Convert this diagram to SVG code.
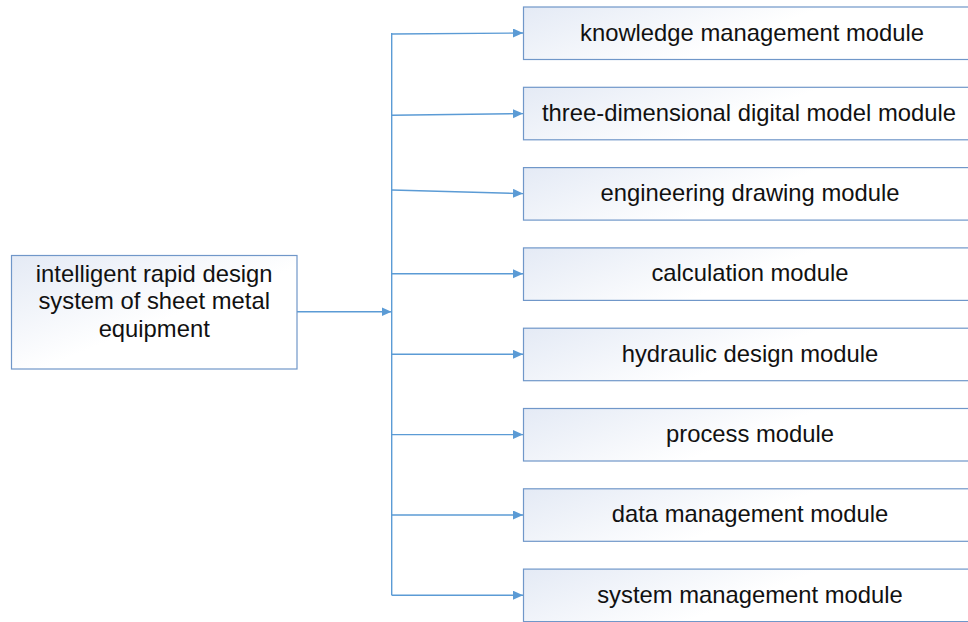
<svg xmlns="http://www.w3.org/2000/svg" width="968" height="622" viewBox="0 0 968 622">
<style>
.box{stroke:#7097C9;stroke-width:1.2;}
.lbl{font-family:"Liberation Sans",Arial,sans-serif;font-size:23.8px;fill:#111;text-anchor:middle;}
.con{stroke:#5B9BD5;stroke-width:1.4;fill:none;}
</style>
<defs>
<linearGradient id="gR" x1="0" y1="0" x2="1" y2="0.3">
<stop offset="0" stop-color="#E4EAF5"/>
<stop offset="0.6" stop-color="#FFFFFF"/>
</linearGradient>
<linearGradient id="gL" x1="0" y1="0" x2="1" y2="1">
<stop offset="0" stop-color="#E4EAF5"/>
<stop offset="0.55" stop-color="#FFFFFF"/>
</linearGradient>
<marker id="ah" markerUnits="userSpaceOnUse" markerWidth="11" markerHeight="10" refX="10" refY="4.5" orient="auto">
<path d="M0,0 L10,4.5 L0,9 z" fill="#5B9BD5"/>
</marker>
</defs>
<rect width="968" height="622" fill="#FFFFFF"/>
<g id="connectors">
<line class="con" x1="297" y1="311.7" x2="391.5" y2="311.7" marker-end="url(#ah)"/>
<line class="con" x1="391.7" y1="33" x2="391.7" y2="595.2"/>
<line class="con" x1="391.7" y1="34" x2="523" y2="33" marker-end="url(#ah)"/>
<line class="con" x1="391.7" y1="115.2" x2="523" y2="113.6" marker-end="url(#ah)"/>
<line class="con" x1="391.7" y1="190" x2="523" y2="193.6" marker-end="url(#ah)"/>
<line class="con" x1="391.7" y1="273.8" x2="523" y2="273.8" marker-end="url(#ah)"/>
<line class="con" x1="391.7" y1="354.3" x2="523" y2="354.3" marker-end="url(#ah)"/>
<line class="con" x1="391.7" y1="434.6" x2="523" y2="434.6" marker-end="url(#ah)"/>
<line class="con" x1="391.7" y1="515" x2="523" y2="515" marker-end="url(#ah)"/>
<line class="con" x1="391.7" y1="595.2" x2="523" y2="595.2" marker-end="url(#ah)"/>
</g>
<g id="root">
<rect class="box" x="11.5" y="255.5" width="285.5" height="113.5" fill="url(#gL)"/>
<text class="lbl" x="154.2" y="281.5">intelligent rapid design</text>
<text class="lbl" x="154.2" y="309">system of sheet metal</text>
<text class="lbl" x="154.2" y="336.5">equipment</text>
</g>
<g id="m1"><rect class="box" x="523.5" y="7" width="460" height="52.5" fill="url(#gR)"/><text class="lbl" x="752" y="40.5">knowledge management module</text></g>
<g id="m2"><rect class="box" x="523.5" y="87.3" width="460" height="52.5" fill="url(#gR)"/><text class="lbl" x="749" y="120.8">three-dimensional digital model module</text></g>
<g id="m3"><rect class="box" x="523.5" y="167.6" width="460" height="52.5" fill="url(#gR)"/><text class="lbl" x="750" y="201.1">engineering drawing module</text></g>
<g id="m4"><rect class="box" x="523.5" y="247.9" width="460" height="52.5" fill="url(#gR)"/><text class="lbl" x="750" y="281.4">calculation module</text></g>
<g id="m5"><rect class="box" x="523.5" y="328.2" width="460" height="52.5" fill="url(#gR)"/><text class="lbl" x="750" y="361.7">hydraulic design module</text></g>
<g id="m6"><rect class="box" x="523.5" y="408.5" width="460" height="52.5" fill="url(#gR)"/><text class="lbl" x="750" y="442">process module</text></g>
<g id="m7"><rect class="box" x="523.5" y="488.8" width="460" height="52.5" fill="url(#gR)"/><text class="lbl" x="750" y="522.3">data management module</text></g>
<g id="m8"><rect class="box" x="523.5" y="569.1" width="460" height="52.5" fill="url(#gR)"/><text class="lbl" x="750" y="602.6">system management module</text></g>
</svg>
